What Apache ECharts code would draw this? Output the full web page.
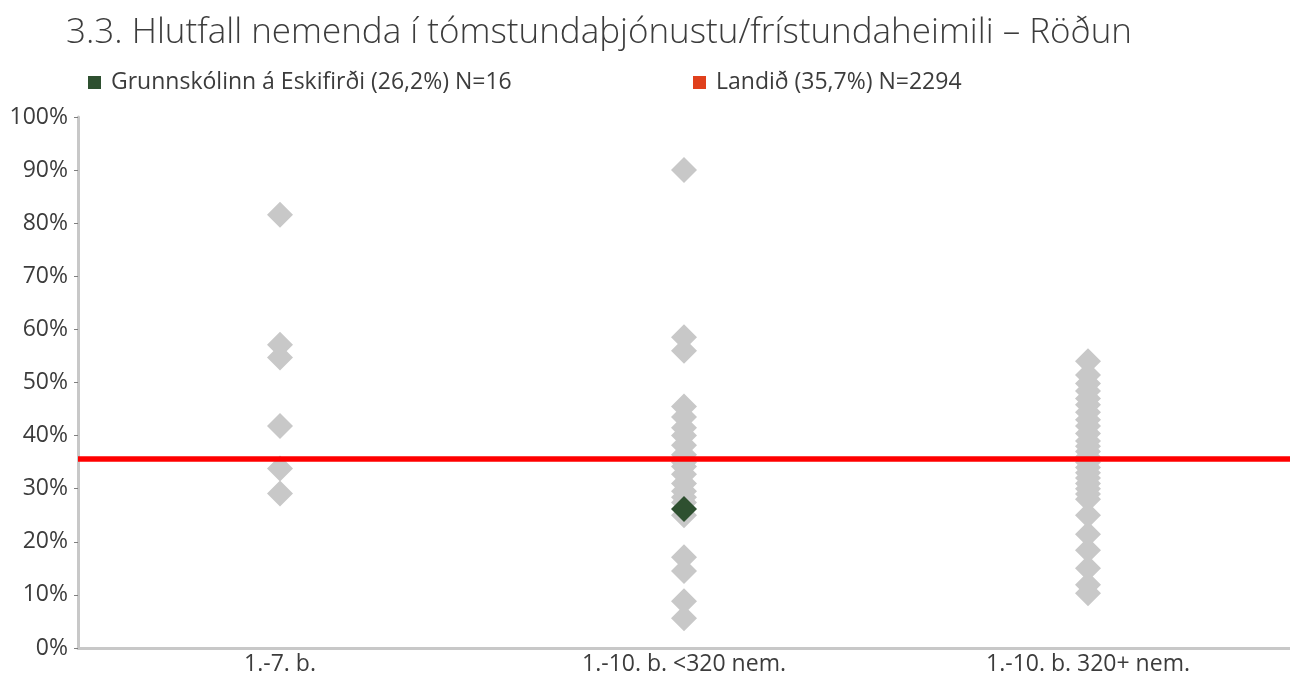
<!DOCTYPE html>
<html>
<head>
<meta charset="utf-8">
<script src="https://cdn.jsdelivr.net/npm/echarts@6/dist/echarts.min.js"></script>
<style>
  html, body { margin: 0; padding: 0; background: #ffffff; }
  #chart { width: 1290px; height: 676px; }
</style>
</head>
<body>
<div id="chart"></div>
<script>
// School-size groups along the x axis
const categories = ['1.-7. b.', '1.-10. b. <320 nem.', '1.-10. b. 320+ nem.'];

// Share of pupils (%) for every school, one list per group
const groupSmall = [81.6, 57.1, 54.7, 41.8, 33.8, 29.1];
const groupMid = [90.0, 58.5, 56.0, 45.5, 43.5, 41.5, 40.0, 38.2, 36.4, 35.0, 34.2,
  32.7, 31.0, 29.5, 28.4, 27.4, 25.0, 17.1, 14.5, 8.8, 5.6];
const groupLarge = [54.0, 51.4, 49.8, 48.4, 47.0, 45.8, 44.4, 43.0, 41.8, 40.4, 39.0,
  38.0, 37.0, 36.0, 35.0, 34.0, 33.0, 32.0, 31.0, 30.0, 29.0, 28.0,
  25.0, 21.4, 18.4, 15.0, 11.9, 10.3];

// Highlighted school and the national average
const schoolName = 'Grunnskólinn á Eskifirði (26,2%) N=16';
const schoolGroup = 1;
const schoolValue = 26.2;
const nationName = 'Landið (35,7%) N=2294';
const nationValue = 35.7;

const yTicks = { min: 0, max: 100, interval: 10 };

const textColor = '#3c3c3c';
const fontFamily = '"Open Sans", "DejaVu Sans", sans-serif';
const labelSize = 23;

const grayPoints = [];
[groupSmall, groupMid, groupLarge].forEach((list, i) => {
  list.forEach(v => grayPoints.push([i, v]));
});

const chart = echarts.init(document.getElementById('chart'), null, { renderer: 'canvas' });

const legendText = { fontSize: labelSize, color: textColor, fontFamily: fontFamily, padding: [0, 0, 0, 5] };

chart.setOption({
  animation: false,
  backgroundColor: '#ffffff',
  textStyle: { fontFamily: fontFamily, color: textColor },
  title: {
    text: '3.3. Hlutfall nemenda í tómstundaþjónustu/frístundaheimili – Röðun',
    left: 61,
    top: 11,
    textStyle: { fontFamily: fontFamily, fontWeight: 300, fontSize: 35, color: textColor }
  },
  legend: [
    {
      data: [{ name: schoolName, icon: 'rect' }],
      left: 83, top: 66,
      itemWidth: 13, itemHeight: 13,
      textStyle: legendText,
      selectedMode: false
    },
    {
      data: [{ name: nationName, icon: 'rect' }],
      left: 688, top: 66,
      itemWidth: 13, itemHeight: 13,
      textStyle: legendText,
      selectedMode: false
    }
  ],
  grid: { left: 78, right: 0, top: 117, bottom: 26, containLabel: false },
  xAxis: {
    type: 'category',
    data: categories,
    boundaryGap: true,
    axisLine: { show: true, lineStyle: { color: '#c8c8c8', width: 3 } },
    axisTick: { show: false },
    axisLabel: { fontSize: labelSize, color: textColor, margin: 5, fontFamily: fontFamily },
    splitLine: { show: false }
  },
  yAxis: {
    type: 'value',
    min: yTicks.min,
    max: yTicks.max,
    interval: yTicks.interval,
    axisLine: { show: true, lineStyle: { color: '#c8c8c8', width: 3 } },
    axisTick: { show: true, length: 4, lineStyle: { color: '#7f7f7f', width: 1 } },
    axisLabel: { fontSize: labelSize, color: textColor, margin: 10, formatter: '{value}%', fontFamily: fontFamily },
    splitLine: { show: false }
  },
  series: [
    {
      name: 'Skólar',
      type: 'scatter',
      data: grayPoints,
      symbol: 'diamond',
      symbolSize: 26,
      itemStyle: { color: '#c8c8c8', opacity: 1 },
      z: 2,
      silent: true
    },
    {
      name: nationName,
      type: 'line',
      data: [],
      itemStyle: { color: '#e0401c' },
      lineStyle: { color: '#ff0000' },
      markLine: {
        silent: true,
        symbol: 'none',
        label: { show: false },
        lineStyle: { color: '#ff0000', width: 5.5, type: 'solid' },
        data: [{ yAxis: nationValue }]
      },
      z: 3
    },
    {
      name: schoolName,
      type: 'scatter',
      data: [[schoolGroup, schoolValue]],
      symbol: 'diamond',
      symbolSize: 26,
      itemStyle: { color: '#2e5030', opacity: 1 },
      z: 5,
      silent: true
    }
  ]
});
</script>
</body>
</html>
